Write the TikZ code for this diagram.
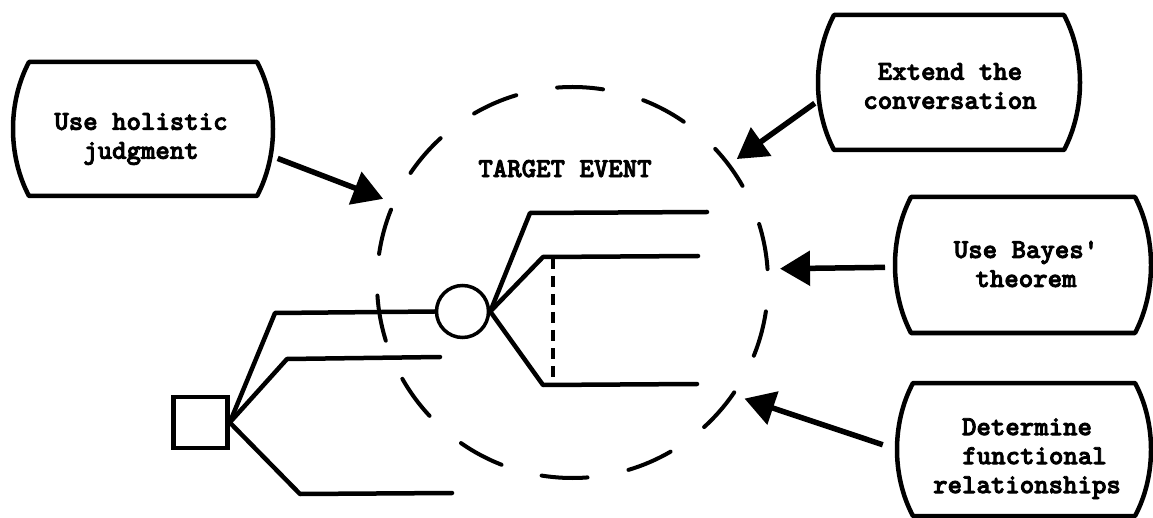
\documentclass[tikz,border=0pt]{standalone}
\usepackage{fontspec}
\newfontfamily\twfont{lmmonolt10-bold.otf}[Ligatures=TeXOff,FakeBold=3]
\usetikzlibrary{arrows.meta,calc}
\newcommand\probbox[2][16]{%
  \draw[pbline] ($(#2.north west)+(#1,0)$) -- ($(#2.north east)+(-#1,0)$)
    .. controls ($(#2.north east)!0.3!(#2.south east)+({#1/3},0)$) and ($(#2.north east)!0.7!(#2.south east)+({#1/3},0)$) .. ($(#2.south east)+(-#1,0)$)
    -- ($(#2.south west)+(#1,0)$)
    .. controls ($(#2.south west)!0.3!(#2.north west)+({-#1/3},0)$) and ($(#2.south west)!0.7!(#2.north west)+({-#1/3},0)$) .. ($(#2.north west)+(#1,0)$) -- cycle;}
\begin{document}
\begin{tikzpicture}[x=1pt,y=-1pt,
  txt/.style={font=\twfont\fontsize{27.5}{29}\selectfont, align=center, inner sep=0pt},
  pb/.style={inner sep=0pt, outer sep=0pt, draw=none},
  pbline/.style={line width=4.5pt, line join=round},
  arr/.style={line width=5.5pt, -{Triangle[length=30pt,width=34pt]}},
  br/.style={line width=4.5pt, line cap=round, line join=round},
  vdash/.style={line width=4pt, dash pattern=on 11pt off 7pt},
  tgtstyle/.style={circle, draw, inner sep=0pt, outer sep=0pt, minimum size=391pt,
     line width=4pt, line cap=round, dash pattern=on 46pt off 41.7pt, dash phase=74.3pt},
  chance/.style={circle, draw, inner sep=0pt, minimum size=52pt, line width=3.5pt},
  decision/.style={rectangle, draw, inner sep=0pt, minimum width=54pt, minimum height=51pt, line width=4.5pt}
]
\useasboundingbox (0,0) rectangle (1153,518);

% target event circle
\node[tgtstyle] (tgt) at (572.5,282.5) {};
\node[txt] (tev) at (565,168.6) {TARGET EVENT};

% boxes
\node[pb, minimum width=260pt, minimum height=134pt] (hol) at (143,129) {};
\probbox{hol}
\node[txt] (holt) at (141,139) {Use holistic\\judgment};

\node[pb, minimum width=262pt, minimum height=135pt] (ext) at (949,82.5) {};
\probbox{ext}
\node[txt] (extt) at (950,86) {Extend the\\conversation};

\node[pb, minimum width=256pt, minimum height=136pt] (bay) at (1023,265) {};
\probbox{bay}
\node[txt] (bayt) at (1026,264) {Use Bayes'\\theorem};

\node[pb, minimum width=254pt, minimum height=133pt] (det) at (1024,449.5) {};
\probbox{det}
\node[txt] (dett) at (1027,458.7) {Determine\\\hspace*{0.55em}functional\\relationships};

% arrows
\draw[arr, shorten <=5pt, shorten >=11.5pt] (hol.-12) -- (tgt.156);
\draw[arr, shorten <=4pt, shorten >=10pt] (ext.188) -- (tgt.37);
\draw[arr, shorten <=10pt, shorten >=12.5pt] (bay.181) -- (tgt.4);
\draw[arr, shorten <=15pt, shorten >=12.5pt] (det.west) -- (tgt.-35);

% decision tree
\node[decision] (sq) at (200.5,422.5) {};
\node[chance] (cn) at (462.5,311.5) {};
\coordinate (m1) at (440,357);
\coordinate (l1) at (452,493);
\coordinate (u2) at (707,212);
\coordinate (m2) at (698,256);
\coordinate (l2) at (697,384);
\coordinate (d1) at (553,258);
\coordinate (d2) at (553,384);

\draw[br] (sq.east) -- (275,313) -- (cn.west);
\draw[br] (sq.east) -- (287,359) -- (m1);
\draw[br] (sq.east) -- (300,494) -- (l1);
\draw[br] (cn.east) -- (530,213) -- (u2);
\draw[br] (cn.east) -- (543,257) -- (m2);
\draw[br] (cn.east) -- (543,385) -- (l2);
\draw[vdash] (d1) -- (d2);
\end{tikzpicture}
\end{document}
